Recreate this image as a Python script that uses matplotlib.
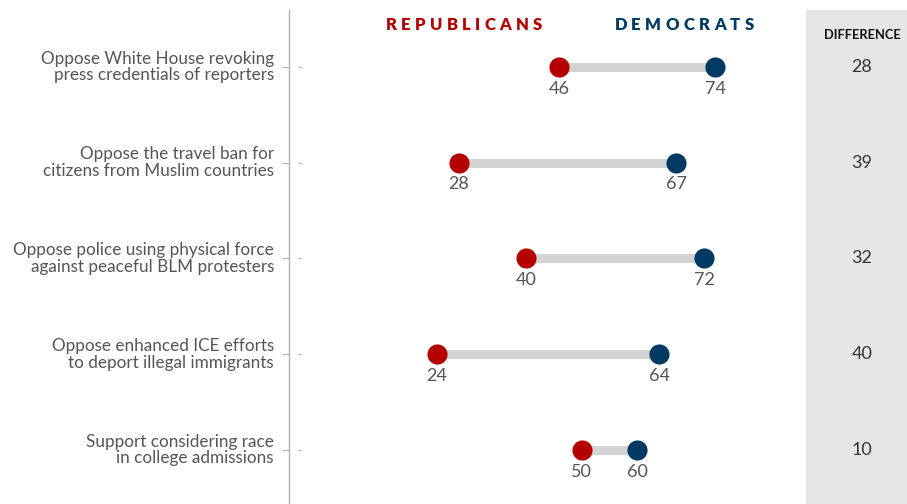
import matplotlib
matplotlib.use("Agg")
import matplotlib.pyplot as plt
from matplotlib.transforms import offset_copy, blended_transform_factory

categories = [
    "Oppose White House revoking\npress credentials of reporters",
    "Oppose the travel ban for\ncitizens from Muslim countries",
    "Oppose police using physical force\nagainst peaceful BLM protesters",
    "Oppose enhanced ICE efforts\nto deport illegal immigrants",
    "Support considering race\nin college admissions",
]
republicans = [46, 28, 40, 24, 50]
democrats = [74, 67, 72, 64, 60]
differences = [28, 39, 32, 40, 10]

RED = "#b50000"
BLUE = "#003a63"
GRAY_LINE = "#d3d3d3"
TEXT = "#555555"

plt.rcParams['font.family'] = ['Lato', 'DejaVu Sans']

W, H = 907, 504
fig = plt.figure(figsize=(W / 100, H / 100), dpi=100)
ax_left = 289 / W
ax_top = 10 / H
ax = fig.add_axes([ax_left, 0, 1 - ax_left, 1 - ax_top])

ppu = 5.57  # pixels per unit
x0_px = 303
xmin = -(x0_px - 289) / ppu
xmax = xmin + (W - 289) / ppu
ax.set_xlim(xmin, xmax)
ax.set_ylim(4 + (504 - 450) / 95.75, -(67 - 10) / 95.75)

for s in ["top", "right", "bottom"]:
    ax.spines[s].set_visible(False)
ax.spines["left"].set_color("#b0b0b0")
ax.spines["left"].set_linewidth(1)
ax.set_xticks([])
ys = list(range(len(categories)))
ax.set_yticks(ys)
ax.set_yticklabels([])
ax.tick_params(axis="y", length=5, color="#b0b0b0", width=0.8)

# difference column
diff_left = (806 - x0_px) / ppu
ax.axvspan(diff_left, xmax, color="#e6e6e8", zorder=0, lw=0)

lab_tr = blended_transform_factory(fig.transFigure, ax.transData)
diff_x = (862 - x0_px) / ppu

for i, (r, d) in enumerate(zip(republicans, democrats)):
    ax.plot([r, d], [i, i], color=GRAY_LINE, lw=6.5, solid_capstyle="butt", zorder=1)
    ax.plot([r], [i], "o", color=RED, ms=14.5, mew=0, zorder=3)
    ax.plot([d], [i], "o", color=BLUE, ms=14.5, mew=0, zorder=3)
    for v in (r, d):
        t = offset_copy(ax.transData, fig=fig, x=0, y=-15.5, units="points")
        ax.text(v, i, str(v), transform=t, ha="center", va="center",
                fontsize=13, color=TEXT)
    # tiny dash right of axis
    ax.plot([-0.7, -0.3], [i, i], color="#b0b0b0", lw=0.8)
    # category label
    ax.text(274 / W, i, categories[i], transform=lab_tr, ha="right",
            va="center", fontsize=12.3, color=TEXT, linespacing=1.07)
    # difference value
    ax.text(diff_x, i, str(differences[i]), ha="center",
            va="center", fontsize=13, color="#333333")

ax.text(diff_x, 1 - 35 / H, "DIFFERENCE",
        transform=blended_transform_factory(ax.transData, fig.transFigure),
        ha="center", va="center", fontsize=9.3, fontweight="bold", color="#111111")

# letter-spaced headers
fig.canvas.draw()
renderer = fig.canvas.get_renderer()


def spaced_text(s, cx_px, cy_px, color, size, tracking_px):
    widths = []
    for ch in s:
        t = fig.text(0, 0, ch, fontsize=size, fontweight="heavy")
        widths.append(t.get_window_extent(renderer).width)
        t.remove()
    total = sum(widths) + tracking_px * (len(s) - 1)
    x = cx_px - total / 2
    for ch, w in zip(s, widths):
        fig.text(x / W, 1 - cy_px / H, ch, fontsize=size, fontweight="heavy",
                 color=color, ha="left", va="center")
        x += w + tracking_px


spaced_text("REPUBLICANS", 464, 25, RED, 12, 4.3)
spaced_text("DEMOCRATS", 684, 25, BLUE, 12, 4.3)

fig.savefig("out.png", dpi=100)
